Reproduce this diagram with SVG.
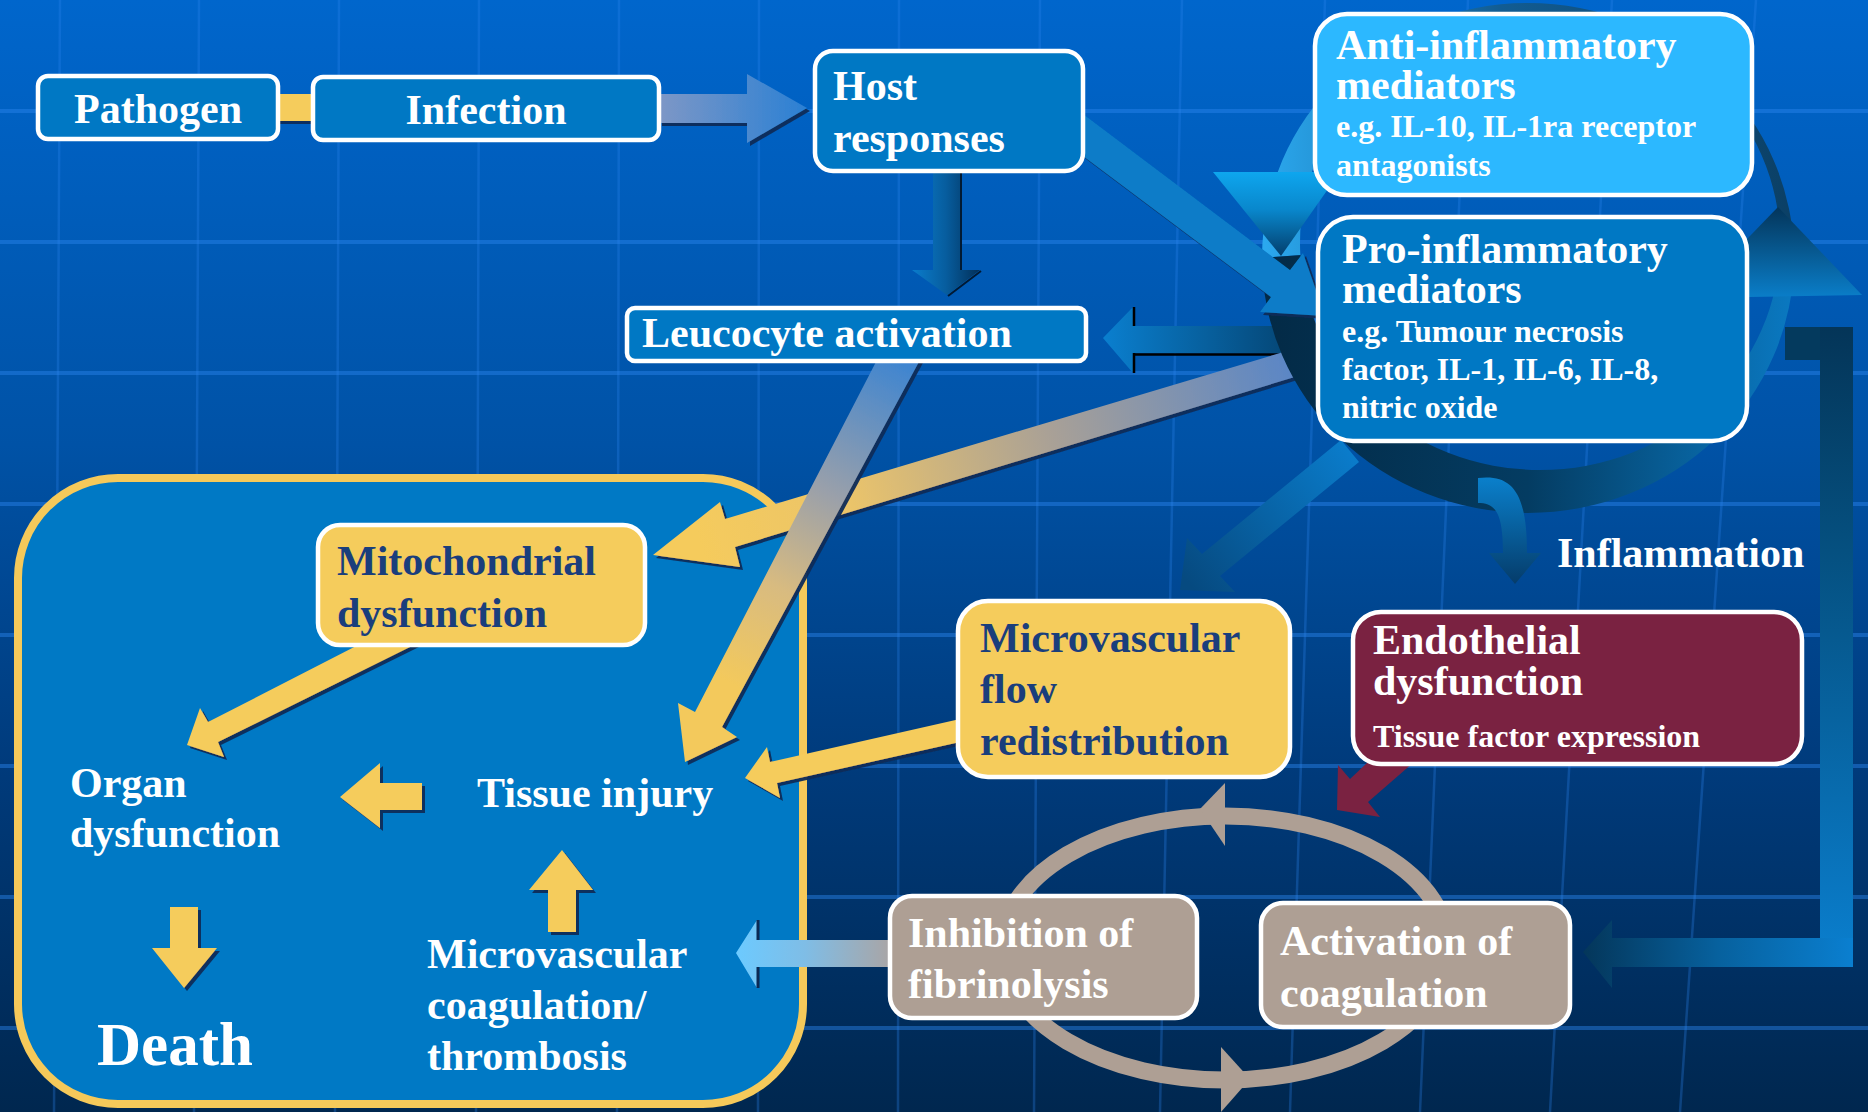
<svg xmlns="http://www.w3.org/2000/svg" width="1868" height="1112" viewBox="0 0 1868 1112">
<defs>
<style>
.t{font-family:"Liberation Serif","Times New Roman",serif;font-weight:bold;font-size:42px;fill:#ffffff}
.s{font-size:32px}
.dk{fill:#1a3e7c}
.box{stroke:#ffffff;stroke-width:4.5}
.blue{fill:#0078c4}
.yel{fill:#f5cc5c}
.taupe{fill:#ae9f94}
.hl{stroke:#2a86ee;stroke-opacity:0.45;stroke-width:4;fill:none}
.vl{stroke:#2a86ee;stroke-opacity:0.3;stroke-width:2.5;fill:none}
.ya{fill:#f5cc5c;filter:url(#sh)}
</style>
<linearGradient id="bg" x1="0" y1="0" x2="0" y2="1">
<stop offset="0" stop-color="#0066cc"/>
<stop offset="0.4" stop-color="#0052a6"/>
<stop offset="0.7" stop-color="#003a7a"/>
<stop offset="1" stop-color="#00274f"/>
</linearGradient>
<filter id="sh" x="-20%" y="-20%" width="140%" height="140%">
<feDropShadow dx="3" dy="3" stdDeviation="0.4" flood-color="#0f2a58" flood-opacity="0.95"/>
</filter>
<linearGradient id="gInfHost" gradientUnits="userSpaceOnUse" x1="660" y1="0" x2="807" y2="0">
<stop offset="0" stop-color="#7d97c6"/><stop offset="1" stop-color="#2a80d4"/>
</linearGradient>
<linearGradient id="gHostLeu" gradientUnits="userSpaceOnUse" x1="912" y1="0" x2="980" y2="0">
<stop offset="0" stop-color="#0a7ccc"/><stop offset="0.5" stop-color="#075d9e"/><stop offset="1" stop-color="#022f58"/>
</linearGradient>
<linearGradient id="gProLeu" gradientUnits="userSpaceOnUse" x1="1103" y1="0" x2="1280" y2="0">
<stop offset="0" stop-color="#0a7fcf"/><stop offset="1" stop-color="#05497a"/>
</linearGradient>
<linearGradient id="gProMito" gradientUnits="userSpaceOnUse" x1="1290" y1="360" x2="700" y2="545">
<stop offset="0" stop-color="#5a86c6"/><stop offset="0.4" stop-color="#a8a097"/><stop offset="0.75" stop-color="#ebc46a"/><stop offset="1" stop-color="#f5cb5c"/>
</linearGradient>
<linearGradient id="gLeuTis" gradientUnits="userSpaceOnUse" x1="900" y1="361" x2="700" y2="740">
<stop offset="0" stop-color="#3f85d0"/><stop offset="0.35" stop-color="#9aa0aa"/><stop offset="0.6" stop-color="#d8bb80"/><stop offset="0.85" stop-color="#f3c95c"/>
</linearGradient>
<linearGradient id="gProMvf" gradientUnits="userSpaceOnUse" x1="1350" y1="450" x2="1190" y2="585">
<stop offset="0" stop-color="#0a7ccb"/><stop offset="1" stop-color="#064a80"/>
</linearGradient>
<linearGradient id="gInfl" gradientUnits="userSpaceOnUse" x1="0" y1="477" x2="0" y2="584">
<stop offset="0" stop-color="#0a80cc"/><stop offset="1" stop-color="#053c6a"/>
</linearGradient>
<linearGradient id="gInhib" gradientUnits="userSpaceOnUse" x1="736" y1="0" x2="890" y2="0">
<stop offset="0" stop-color="#6ccaff"/><stop offset="0.45" stop-color="#7fbde6"/><stop offset="1" stop-color="#a9a5a6"/>
</linearGradient>
<linearGradient id="gBrV" gradientUnits="userSpaceOnUse" x1="0" y1="327" x2="0" y2="967">
<stop offset="0" stop-color="#043558"/><stop offset="0.35" stop-color="#055080"/><stop offset="1" stop-color="#0a7fcf"/>
</linearGradient>
<linearGradient id="gBrH" gradientUnits="userSpaceOnUse" x1="1583" y1="0" x2="1853" y2="0">
<stop offset="0" stop-color="#04365a"/><stop offset="0.5" stop-color="#07619e"/><stop offset="1" stop-color="#0a7fd0"/>
</linearGradient>
<linearGradient id="gUp" gradientUnits="userSpaceOnUse" x1="1790" y1="0" x2="1265" y2="0">
<stop offset="0" stop-color="#0b4066"/><stop offset="0.55" stop-color="#125c92"/><stop offset="1" stop-color="#2ba8ee"/>
</linearGradient>
<linearGradient id="gLo" gradientUnits="userSpaceOnUse" x1="1265" y1="0" x2="1790" y2="0">
<stop offset="0" stop-color="#032a46"/><stop offset="0.5" stop-color="#043c62"/><stop offset="1" stop-color="#0a78c0"/>
</linearGradient>
<linearGradient id="gDownHead" gradientUnits="userSpaceOnUse" x1="0" y1="172" x2="0" y2="256">
<stop offset="0" stop-color="#0ea6ee"/><stop offset="0.45" stop-color="#0987cc"/><stop offset="1" stop-color="#033e6c"/>
</linearGradient>
<linearGradient id="gUpHead" gradientUnits="userSpaceOnUse" x1="0" y1="207" x2="0" y2="295">
<stop offset="0" stop-color="#04355a"/><stop offset="1" stop-color="#0a7cc6"/>
</linearGradient>
<clipPath id="cU"><polygon points="1200,-10 1880,-10 1880,215 1200,262"/></clipPath>
<clipPath id="cL"><polygon points="1200,262 1880,215 1880,560 1200,560"/></clipPath>
<path id="ring" fill-rule="evenodd" d="M1262 258 a266 255 0 1 0 532 0 a266 255 0 1 0 -532 0 Z M1300 242.5 a240 227.5 0 1 0 480 0 a240 227.5 0 1 0 -480 0 Z"/>
</defs>

<rect x="0" y="0" width="1868" height="1112" fill="url(#bg)"/>
<g id="grid">
<path class="hl" d="M0 111H1868M0 242H1868M0 373H1868M0 504H1868M0 635H1868M0 766H1868M0 897H1868M0 1028H1868"/>
<path class="vl" d="M60 0L54 1112M199 0L194 1112M339 0L335 1112M479 0L476 1112M619 0L617 1112M759 0L758 1112M899 0L898 1112M1040 0L1034 1112M1182 0L1160 1112M1325 0L1290 1112M1468 0L1420 1112M1612 0L1550 1112M1756 0L1680 1112"/>
</g>

<g id="organ-area">
<rect x="18" y="478" width="785" height="626" rx="100" fill="#0079c5" stroke="#f5c95a" stroke-width="8"/>
</g>

<g id="connectors">
<rect x="276" y="94" width="39" height="27" fill="#f5cc5c" filter="url(#sh)"/>
<polygon points="659,94 747,94 747,74 807,108 747,143 747,123 659,123" fill="url(#gInfHost)" filter="url(#sh)"/>
<polygon points="933,170 960,170 960,270 980,270 947,295 912,270 933,270" fill="url(#gHostLeu)"/>
<path d="M961 170V270M981 271L948 296" stroke="#011a33" stroke-width="2" fill="none"/>
<polygon points="1103,338 1133,307 1133,326 1282,326 1282,353 1133,353 1133,373" fill="url(#gProLeu)"/>
<path d="M1134 307V326M1134 353V373M1134 354.5H1280" stroke="#000000" stroke-width="2.5" fill="none"/>
<polygon points="1290,350 725,519 720,502 653,555 740,567 735,547 1298,376" fill="url(#gProMito)" filter="url(#sh)"/>
<polygon points="878,358 695,712 678,703 685,762 737,737 722,727 921,358" fill="url(#gLeuTis)" filter="url(#sh)"/>
<polygon points="1341,440 1202,554 1187,538 1180,590 1235,592 1220,576 1359,462" fill="url(#gProMvf)"/>
<rect x="1785" y="327" width="68" height="33" fill="#043a5e"/>
<rect x="1820" y="327" width="33" height="640" fill="url(#gBrV)"/>
<polygon points="1583,952 1612,920 1612,938 1853,938 1853,967 1612,967 1612,988" fill="url(#gBrH)"/>

<use href="#ring" fill="url(#gUp)" clip-path="url(#cU)"/>
<use href="#ring" fill="url(#gLo)" clip-path="url(#cL)"/>
<polygon points="1213,172 1340,172 1281,256" fill="url(#gDownHead)"/>
<polygon points="1778,207 1862,295 1690,298" fill="url(#gUpHead)"/>

<polygon points="1075,108 1290,270 1303,253 1325,316 1260,312 1271,297 1075,150" fill="#0a7cc8" filter="url(#sh)"/>
<path d="M1478 478 C1512 474 1527 492 1527 553 L1541 553 L1515 584 L1489 553 L1503 553 C1503 512 1495 503 1478 503 Z" fill="url(#gInfl)"/>

<polygon class="ya" points="362,643 208,722 200,708 187,745 224,757 218,742 418,643"/>
<polygon class="ya" points="340,797 380,763 380,783 422,783 422,810 380,810 380,828"/>
<polygon class="ya" points="170,907 198,907 198,948 217,948 184,988 152,948 170,948"/>
<polygon class="ya" points="548,932 576,932 576,890 593,890 562,850 529,890 548,890"/>
<polygon class="ya" points="960,719 770,762 767,747 745,778 780,798 777,783 960,742"/>
<polygon points="736,953 757,920 757,940 892,940 892,967 757,967 757,988" fill="url(#gInhib)"/>
<path d="M758 920V940M758 967V988" stroke="#0b2a55" stroke-width="3" fill="none"/>
<polygon points="1368,762 1350,779 1338,765 1337,810 1380,817 1368,802 1414,762" fill="#7a2241"/>
<ellipse cx="1225" cy="948" rx="223" ry="132" fill="none" stroke="#ae9f94" stroke-width="17"/>
<polygon points="1200,809 1225,783 1225,846" fill="#ae9f94"/>
<polygon points="1221,1047 1221,1112 1250,1079" fill="#ae9f94"/>
</g>

<g id="pathogen">
<rect class="box blue" x="38" y="76" width="240" height="63" rx="10"/>
<text class="t" x="158" y="123" text-anchor="middle">Pathogen</text>
</g>
<g id="infection">
<rect class="box blue" x="313" y="77" width="346" height="63" rx="10"/>
<text class="t" x="486" y="124" text-anchor="middle">Infection</text>
</g>
<g id="host-responses">
<rect class="box blue" x="815" y="51" width="268" height="120" rx="18"/>
<text class="t" x="833" y="100">Host</text>
<text class="t" x="833" y="152">responses</text>
</g>
<g id="leucocyte-activation">
<rect class="box blue" x="627" y="308" width="459" height="53" rx="8"/>
<text class="t" x="642" y="347">Leucocyte activation</text>
</g>
<g id="anti-inflammatory">
<rect class="box" x="1315" y="14" width="437" height="181" rx="32" fill="#2cb8ff"/>
<text class="t" x="1336" y="59">Anti-inflammatory</text>
<text class="t" x="1336" y="99">mediators</text>
<text class="t s" x="1336" y="137">e.g. IL-10, IL-1ra receptor</text>
<text class="t s" x="1336" y="176">antagonists</text>
</g>
<g id="pro-inflammatory">
<rect class="box blue" x="1318" y="217" width="429" height="224" rx="35"/>
<text class="t" x="1342" y="263">Pro-inflammatory</text>
<text class="t" x="1342" y="303">mediators</text>
<text class="t s" x="1342" y="342">e.g. Tumour necrosis</text>
<text class="t s" x="1342" y="380">factor, IL-1, IL-6, IL-8,</text>
<text class="t s" x="1342" y="418">nitric oxide</text>
</g>
<g id="inflammation">
<text class="t" x="1557" y="567">Inflammation</text>
</g>
<g id="mitochondrial-dysfunction">
<rect class="box yel" x="318" y="525" width="327" height="120" rx="22"/>
<text class="t dk" x="337" y="575">Mitochondrial</text>
<text class="t dk" x="337" y="627">dysfunction</text>
</g>
<g id="organ-dysfunction">
<text class="t" x="70" y="797">Organ</text>
<text class="t" x="70" y="847">dysfunction</text>
</g>
<g id="tissue-injury">
<text class="t" x="477" y="807">Tissue injury</text>
</g>
<g id="microvascular-coagulation">
<text class="t" x="427" y="968">Microvascular</text>
<text class="t" x="427" y="1019">coagulation/</text>
<text class="t" x="427" y="1070">thrombosis</text>
</g>
<g id="death">
<text class="t" x="97" y="1065" style="font-size:61px">Death</text>
</g>
<g id="microvascular-flow">
<rect class="box yel" x="958" y="601" width="332" height="176" rx="30"/>
<text class="t dk" x="980" y="652">Microvascular</text>
<text class="t dk" x="980" y="703">flow</text>
<text class="t dk" x="980" y="755">redistribution</text>
</g>
<g id="endothelial-dysfunction">
<rect class="box" x="1353" y="612" width="449" height="152" rx="28" fill="#7a2241"/>
<text class="t" x="1373" y="654">Endothelial</text>
<text class="t" x="1373" y="695">dysfunction</text>
<text class="t s" x="1373" y="747">Tissue factor expression</text>
</g>
<g id="inhibition-fibrinolysis">
<rect class="box taupe" x="890" y="896" width="307" height="122" rx="22"/>
<text class="t" x="908" y="947">Inhibition of</text>
<text class="t" x="908" y="998">fibrinolysis</text>
</g>
<g id="activation-coagulation">
<rect class="box taupe" x="1261" y="903" width="309" height="124" rx="22"/>
<text class="t" x="1280" y="955">Activation of</text>
<text class="t" x="1280" y="1007">coagulation</text>
</g>
</svg>
